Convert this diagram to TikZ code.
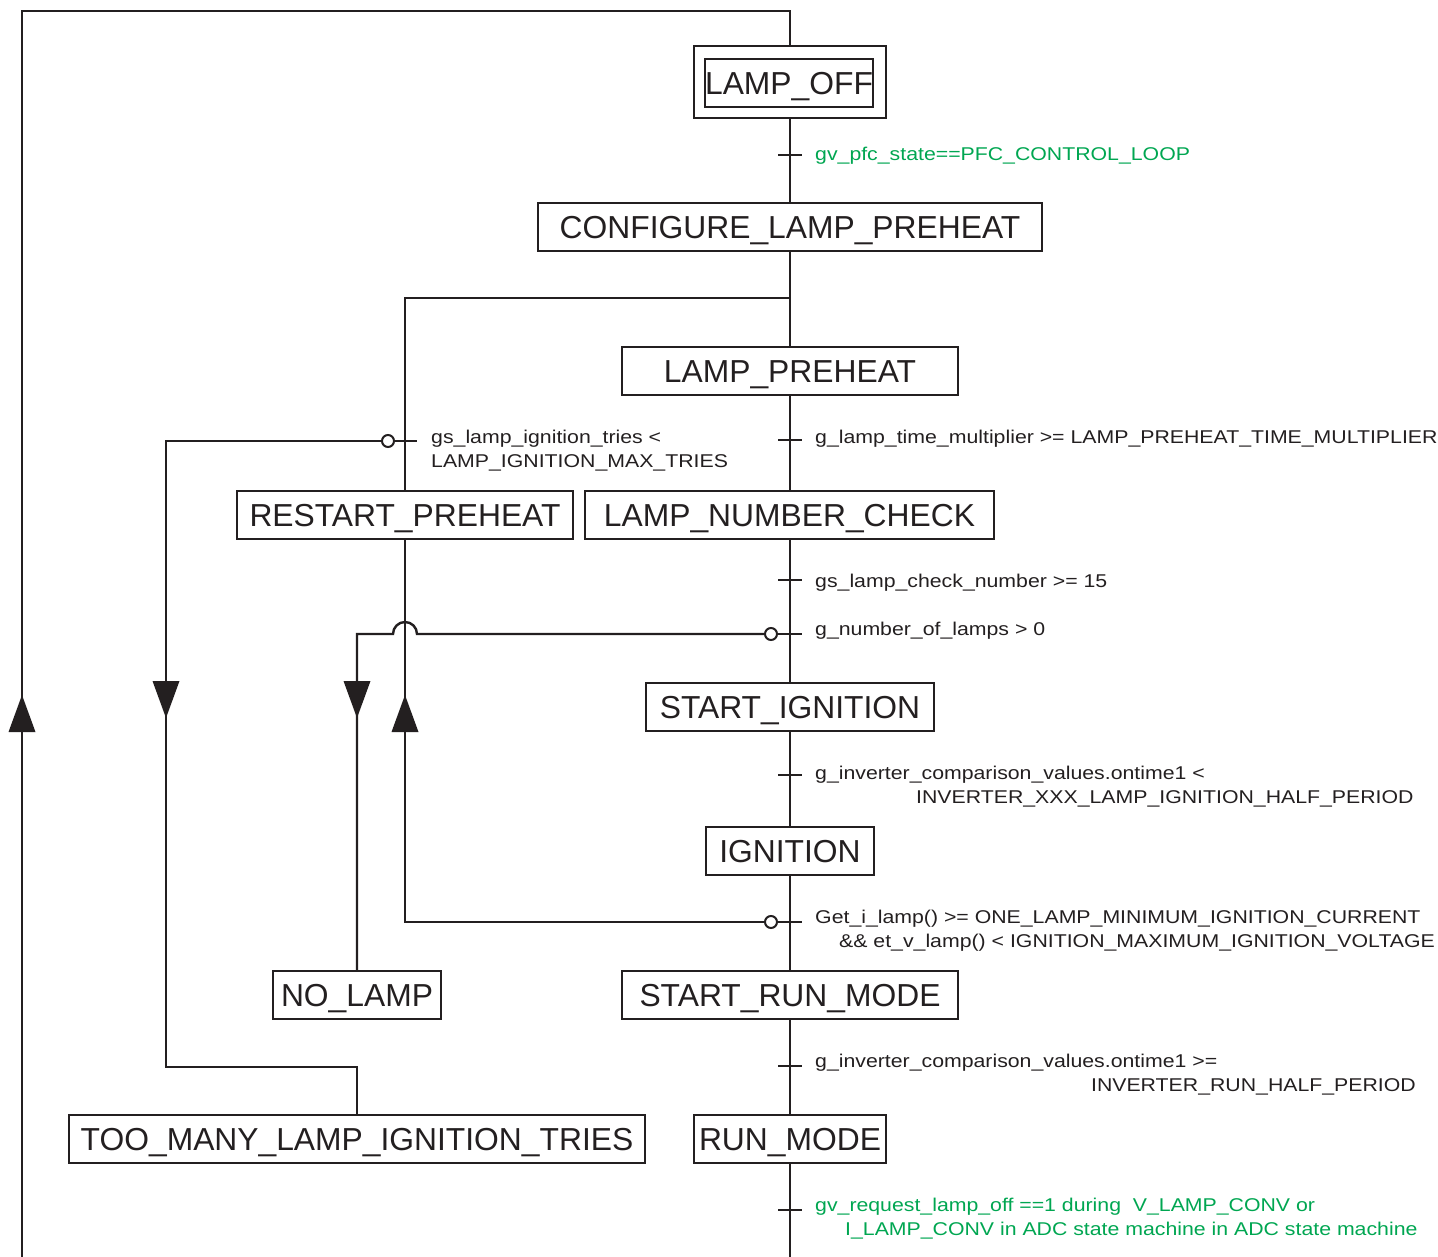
\documentclass[tikz,border=0pt]{standalone}
\usepackage{fontspec}
\setmainfont{Liberation Sans}
\newfontfamily\boxfont{Liberation Sans}
\newfontfamily\lblfont[FakeStretch=1.15]{Liberation Sans}
\definecolor{ink}{RGB}{35,31,32}
\definecolor{condgreen}{RGB}{0,166,81}
\begin{document}
\begin{tikzpicture}[x=1pt,y=-1pt,
  line width=2.4pt, draw=ink, line join=miter,
  state/.style={draw, rectangle, inner sep=0pt, minimum height=48pt, text=ink,
    text height=22.8pt, text depth=0pt,
    font=\boxfont\fontsize{31.8}{36}\selectfont},
  lbl/.style={anchor=base west, inner sep=0pt, text=ink, font=\lblfont\fontsize{18.5}{22}\selectfont},
  glbl/.style={lbl, text=condgreen},
  circ/.style={circle, draw, fill=white, line width=2pt, minimum size=12pt, inner sep=0pt},
  tick/.style={line width=2.4pt},
  uparr/.pic={\fill[ink] (0,0) -- (-13.5,37) -- (13.5,37) -- cycle;},
  dnarr/.pic={\fill[ink] (0,0) -- (-13.5,-37) -- (13.5,-37) -- cycle;}
]
\useasboundingbox (0,0) rectangle (1438,1257);

% states
\node[state, minimum width=168pt, minimum height=48pt] (off) at (789,83) {LAMP\_OFF};
\node[draw, rectangle, inner sep=0pt, minimum width=192pt, minimum height=72pt] (offout) at (790,82) {};
\node[state, minimum width=504pt] (cfg) at (790,227) {CONFIGURE\_LAMP\_PREHEAT};
\node[state, minimum width=336pt] (pre) at (790,371) {LAMP\_PREHEAT};
\node[state, minimum width=336pt] (rst) at (405,515) {RESTART\_PREHEAT};
\node[state, minimum width=409pt] (lnc) at (789.5,515) {LAMP\_NUMBER\_CHECK};
\node[state, minimum width=288pt] (sig) at (790,707) {START\_IGNITION};
\node[state, minimum width=168pt] (ign) at (790,851) {IGNITION};
\node[state, minimum width=168pt] (nol) at (357,995) {NO\_LAMP};
\node[state, minimum width=336pt] (srm) at (790,995) {START\_RUN\_MODE};
\node[state, minimum width=576pt] (tmt) at (357,1139) {TOO\_MANY\_LAMP\_IGNITION\_TRIES};
\node[state, minimum width=192pt] (run) at (790,1139) {RUN\_MODE};

% helper coordinates
\coordinate (topR) at (790,11);
\coordinate (topL) at (22,11);
\coordinate (botL) at (22,1257);
\coordinate (botR) at (790,1257);
\coordinate (j1) at (790,298);

% choice circles
\node[circ] (c0) at (388,441) {};
\node[circ] (c1) at (771,634) {};
\node[circ] (c2) at (771,922) {};

% main sequence
\draw (offout.south) -- (cfg.north);
\draw (cfg.south) -- (pre.north);
\draw (j1) -| (rst.north);
\draw (pre.south) -- (pre.south |- lnc.north);
\draw (lnc.south -| sig.north) -- (sig.north);
\draw (sig.south) -- (ign.north);
\draw (ign.south) -- (srm.north);
\draw (srm.south) -- (run.north);
\draw (run.south) -- (botR);

% loop back to LAMP_OFF
\draw (botL) -- (topL) -- (topR) -- (offout.north);
\pic at (22,695) {uparr};

% retry branch -> TOO_MANY
\draw (c0.west) -- (166,441) -- (166,1067) -| (tmt.north);
\draw[tick] (393,441) -- (417,441);
\pic at (166,718) {dnarr};

% no lamp branch with hop
\draw (c1.west) -- (417,634) arc[start angle=0, end angle=-180, radius=12] -- (357,634) -- (nol.north);
\pic at (357,718) {dnarr};

% ignition failure back to RESTART_PREHEAT
\draw (c2.west) -- (405,922) -- (rst.south);
\pic at (405,695) {uparr};

% ticks on main line
\foreach \yy in {155,440,580,634,775,922,1066,1210}
  \draw[tick] (778,\yy) -- (802,\yy);

% labels
\node[glbl] (l1) at (814,161) {gv\_pfc\_state==PFC\_CONTROL\_LOOP};
\node[lbl] (l2) at (814,443) {g\_lamp\_time\_multiplier >= LAMP\_PREHEAT\_TIME\_MULTIPLIER};
\node[lbl] (l3a) at (430,443) {gs\_lamp\_ignition\_tries <};
\node[lbl] (l3b) at (430,467) {LAMP\_IGNITION\_MAX\_TRIES};
\node[lbl] (l4) at (814,587) {gs\_lamp\_check\_number >= 15};
\node[lbl] (l5) at (814,635) {g\_number\_of\_lamps > 0};
\node[lbl] (l6a) at (814,779) {g\_inverter\_comparison\_values.ontime1 <};
\node[lbl] (l6b) at (915,803) {INVERTER\_XXX\_LAMP\_IGNITION\_HALF\_PERIOD};
\node[lbl] (l7a) at (814,923) {Get\_i\_lamp() >= ONE\_LAMP\_MINIMUM\_IGNITION\_CURRENT};
\node[lbl] (l7b) at (838,947) {\&\& et\_v\_lamp() < IGNITION\_MAXIMUM\_IGNITION\_VOLTAGE};
\node[lbl] (l8a) at (814,1067) {g\_inverter\_comparison\_values.ontime1 >=};
\node[lbl, anchor=base east] (l8b) at (1417,1091) {INVERTER\_RUN\_HALF\_PERIOD};
\node[glbl] (l9a) at (814,1211) {gv\_request\_lamp\_off ==1 during\ \ V\_LAMP\_CONV or};
\node[glbl] (l9b) at (844,1235) {I\_LAMP\_CONV in ADC state machine in ADC state machine};
\end{tikzpicture}
\end{document}
